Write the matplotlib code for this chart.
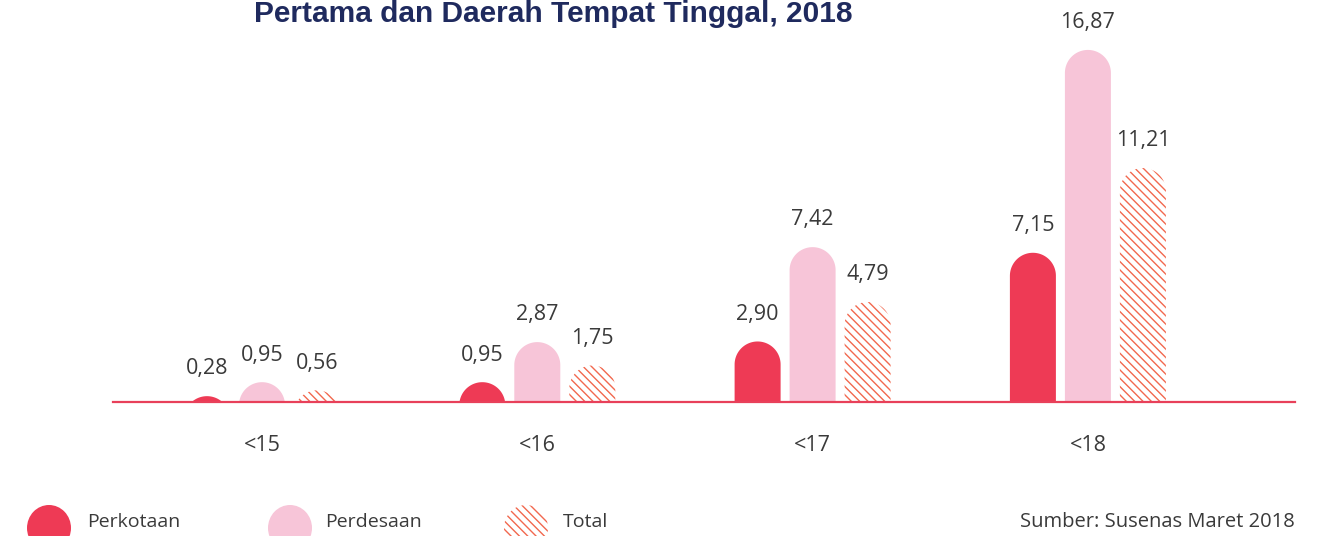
import numpy as np
import matplotlib
matplotlib.use('Agg')
import matplotlib.pyplot as plt
from matplotlib.path import Path
from matplotlib.patches import PathPatch, Ellipse

# ---------------- data ----------------
categories = ['<15', '<16', '<17', '<18']
series_names = ['Perkotaan', 'Perdesaan', 'Total']
perkotaan = [0.28, 0.95, 2.90, 7.15]
perdesaan = [0.95, 2.87, 7.42, 16.87]
total = [0.56, 1.75, 4.79, 11.21]
title = 'Pertama dan Daerah Tempat Tinggal, 2018'
source = 'Sumber: Susenas Maret 2018'

# ---------------- style ----------------
RED = '#EE3A55'
PINK = '#F7C5D8'
HATCH = '#F2684E'
BASE = '#E8405A'
NAVY = '#1F2A5E'
TXT = '#3A3A3A'
plt.rcParams['font.family'] = ['Open Sans', 'DejaVu Sans']
plt.rcParams['hatch.linewidth'] = 1.0

W, H = 1329, 536
fig = plt.figure(figsize=(W / 100, H / 100), dpi=100)

# main axes: baseline at pixel y=402, x from 113 to 1295
base_px = 402
x0_px, x1_px = 113, 1295
grp0_px, grp_step_px = 262, 275.3
ypx_per_unit = 20.87
ax = fig.add_axes([x0_px / W, (H - base_px) / H, (x1_px - x0_px) / W, base_px / H])
ax.set_xlim((x0_px - grp0_px) / grp_step_px, (x1_px - grp0_px) / grp_step_px)
ax.set_ylim(0, base_px / ypx_per_unit)
ax.axis('off')

bar_w = 46 / grp_step_px
offset = 55 / grp_step_px
r_y = 23 / ypx_per_unit


def pill_path(xc, h, w, ry):
    t = np.linspace(0, np.pi, 80)
    cy = h - ry
    xs = np.concatenate([[xc + w / 2], xc + (w / 2) * np.cos(t), [xc - w / 2]])
    ys = np.concatenate([[0], cy + ry * np.sin(t), [0]])
    ys = np.maximum(ys, 0)
    verts = list(zip(xs, ys)) + [(xs[0], 0)]
    codes = [Path.MOVETO] + [Path.LINETO] * (len(verts) - 2) + [Path.CLOSEPOLY]
    return Path(verts, codes)


series = [perkotaan, perdesaan, total]
styles = [dict(facecolor=RED, edgecolor='none', lw=0),
          dict(facecolor=PINK, edgecolor='none', lw=0),
          dict(facecolor='none', edgecolor=HATCH, lw=0, hatch='\\\\\\\\')]

for si, (vals, st) in enumerate(zip(series, styles)):
    for ci, v in enumerate(vals):
        xc = ci + (si - 1) * offset
        p = PathPatch(pill_path(xc, v, bar_w, r_y), **st)
        ax.add_patch(p)
        ax.annotate(f'{v:.2f}'.replace('.', ','), xy=(xc, v), xytext=(0, 12),
                    textcoords='offset points', ha='center', va='bottom',
                    fontsize=15.5, color=TXT, annotation_clip=False)

ax.axhline(0, color=BASE, lw=1.6, clip_on=False, zorder=5)

for ci, c in enumerate(categories):
    ax.annotate(c, xy=(ci, 0), xytext=(0, -31.5), textcoords='offset points',
                ha='center', va='center', fontsize=15.5, color=TXT, annotation_clip=False)

# overlay axes in pixel coordinates for title / legend / source
lax = fig.add_axes([0, 0, 1, 1], zorder=-1)
lax.set_xlim(0, W)
lax.set_ylim(H, 0)
lax.axis('off')

lax.text(553, 22, title, ha='center', va='baseline', fontsize=21.5,
         fontweight='bold', color=NAVY, family=['Liberation Sans', 'DejaVu Sans'])

leg_x = [49, 290, 526]
leg_tx = [87, 325, 563]
leg_y = 522
leg_styles = [dict(facecolor=RED, edgecolor='none', lw=0),
              dict(facecolor=PINK, edgecolor='none', lw=0),
              dict(facecolor='none', edgecolor=HATCH, lw=0, hatch='\\\\\\\\')]
for lx, tx, name, st in zip(leg_x, leg_tx, series_names, leg_styles):
    lax.add_patch(Ellipse((lx, leg_y + 6), 44, 46, **st))
    lax.text(tx, leg_y, name, ha='left', va='center', fontsize=14, color=TXT)

lax.text(1295, leg_y, source, ha='right', va='center', fontsize=14.5, color=TXT)

fig.savefig('out.png', dpi=100)
